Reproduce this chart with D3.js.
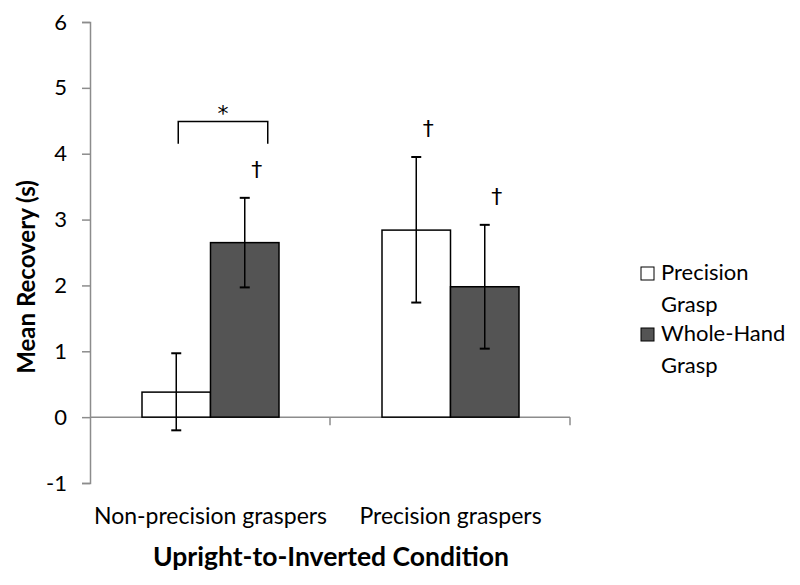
<!DOCTYPE html>
<html>
<head>
<meta charset="utf-8">
<script src="https://cdn.jsdelivr.net/npm/d3@7"></script>
<style>
  body { margin: 0; background: #fff; }
  svg text { font-family: Lato, "Open Sans", sans-serif; fill: #000; }
</style>
</head>
<body>
<svg width="800" height="585"></svg>
<script>
// chart data
const groups = ["Non-precision graspers", "Precision graspers"];
const series = ["Precision Grasp", "Whole-Hand Grasp"];
const means = [[0.38, 2.65], [2.84, 1.98]];
const errLow = [[-0.2, 1.97], [1.74, 1.04]];
const errHigh = [[0.97, 3.33], [3.95, 2.92]];
const yTicks = [-1, 0, 1, 2, 3, 4, 5, 6];
const daggers = [[null, 3.78], [4.4, 3.37]];

const svg = d3.select('svg');
const plotLeft = 90, plotRight = 570, plotTop = 22, plotBottom = 483;

const y = d3.scaleLinear().domain([-1, 6]).range([plotBottom, plotTop]);
const x0 = d3.scaleBand().domain(groups).range([plotLeft, plotRight]).paddingInner(0).paddingOuter(0);
const x1 = d3.scaleBand().domain(series).range([52, 240 - 51]);
const fills = ["#ffffff", "#545454"];

// y axis
const yAxis = svg.append('g')
    .attr('transform', `translate(${plotLeft},0)`)
    .call(d3.axisLeft(y).tickValues(yTicks).tickSize(8).tickPadding(15).tickFormat(d => String(d)));
yAxis.select('.domain').attr('stroke', '#8c8c8c').attr('stroke-width', 1.5);
yAxis.selectAll('line').attr('stroke', '#8c8c8c').attr('stroke-width', 1.5);
yAxis.selectAll('text').style('font-size', '22px').attr('fill', '#000');

// x axis at zero
const xg = svg.append('g').attr('transform', `translate(0,${y(0)})`);
xg.append('line').attr('x1', plotLeft).attr('x2', plotRight).attr('stroke', '#8c8c8c').attr('stroke-width', 1.5);
xg.selectAll('.xt').data([...groups.slice(1).map(g => x0(g)), plotRight]).enter()
    .append('line').attr('x1', d => d).attr('x2', d => d).attr('y2', 8)
    .attr('stroke', '#8c8c8c').attr('stroke-width', 1.5);

// bars
const gg = svg.selectAll('.grp').data(groups).enter().append('g')
    .attr('transform', d => `translate(${x0(d)},0)`);

gg.each(function (g, gi) {
    const sel = d3.select(this);
    series.forEach((s, si) => {
        const v = means[gi][si];
        sel.append('rect')
            .attr('x', x1(s)).attr('width', x1.bandwidth())
            .attr('y', y(Math.max(v, 0))).attr('height', Math.abs(y(v) - y(0)))
            .attr('fill', fills[si]).attr('stroke', '#000').attr('stroke-width', 1.5);
    });
    series.forEach((s, si) => {
        const cx = x1(s) + x1.bandwidth() / 2;
        sel.append('line').attr('x1', cx).attr('x2', cx)
            .attr('y1', y(errLow[gi][si])).attr('y2', y(errHigh[gi][si]))
            .attr('stroke', '#000').attr('stroke-width', 1.5);
        [errLow[gi][si], errHigh[gi][si]].forEach(e => {
            sel.append('line').attr('x1', cx - 5).attr('x2', cx + 5)
                .attr('y1', y(e)).attr('y2', y(e))
                .attr('stroke', '#000').attr('stroke-width', 2);
        });
        const dg = daggers[gi][si];
        if (dg != null) {
            sel.append('text').attr('x', cx + 12).attr('y', y(dg) + 9)
                .attr('text-anchor', 'middle')
                .style('font-family', '"DejaVu Sans", sans-serif')
                .style('font-size', '22px').text('†');
        }
    });
});

// significance bracket
const bx1 = x0(groups[0]) + x1(series[0]) + x1.bandwidth() / 2 + 2;
const bx2 = x0(groups[0]) + x1(series[1]) + x1.bandwidth() / 2 + 23;
svg.append('path')
    .attr('d', `M${bx1},${y(4.15)}V${y(4.49)}H${bx2}V${y(4.15)}`)
    .attr('fill', 'none').attr('stroke', '#000').attr('stroke-width', 1.5);
svg.append('text').attr('x', (bx1 + bx2) / 2).attr('y', y(4.72) + 15)
    .attr('text-anchor', 'middle')
    .style('font-family', '"DejaVu Sans", sans-serif')
    .style('font-size', '22px').text('*');

// category labels
svg.selectAll('.cat').data(groups).enter().append('text')
    .attr('x', d => x0(d) + x0.bandwidth() / 2 + 0.5).attr('y', 524)
    .attr('text-anchor', 'middle').style('font-size', '23px').text(d => d);

// axis titles
svg.append('text').attr('x', 331).attr('y', 566).attr('text-anchor', 'middle')
    .style('font-size', '26.5px').style('font-weight', 'bold').text('Upright-to-Inverted Condition');
svg.append('text').attr('transform', 'translate(35,277) rotate(-90)').attr('text-anchor', 'middle')
    .style('font-size', '24px').style('font-weight', 'bold').text('Mean Recovery (s)');

// legend
const legendLines = [["Precision", "Grasp"], ["Whole-Hand", "Grasp"]];
const lg = svg.selectAll('.lg').data(series).enter().append('g')
    .attr('transform', (d, i) => `translate(641,${267 + i * 61})`);
lg.append('rect').attr('width', 13).attr('height', 13)
    .attr('fill', (d, i) => fills[i]).attr('stroke', '#000').attr('stroke-width', 1);
lg.each(function (d, i) {
    const t = d3.select(this).append('text').attr('x', 20).attr('y', 13).style('font-size', '22px');
    legendLines[i].forEach((w, k) => {
        t.append('tspan').attr('x', 20).attr('dy', k === 0 ? 0 : 32).text(w);
    });
});
</script>
</body>
</html>
